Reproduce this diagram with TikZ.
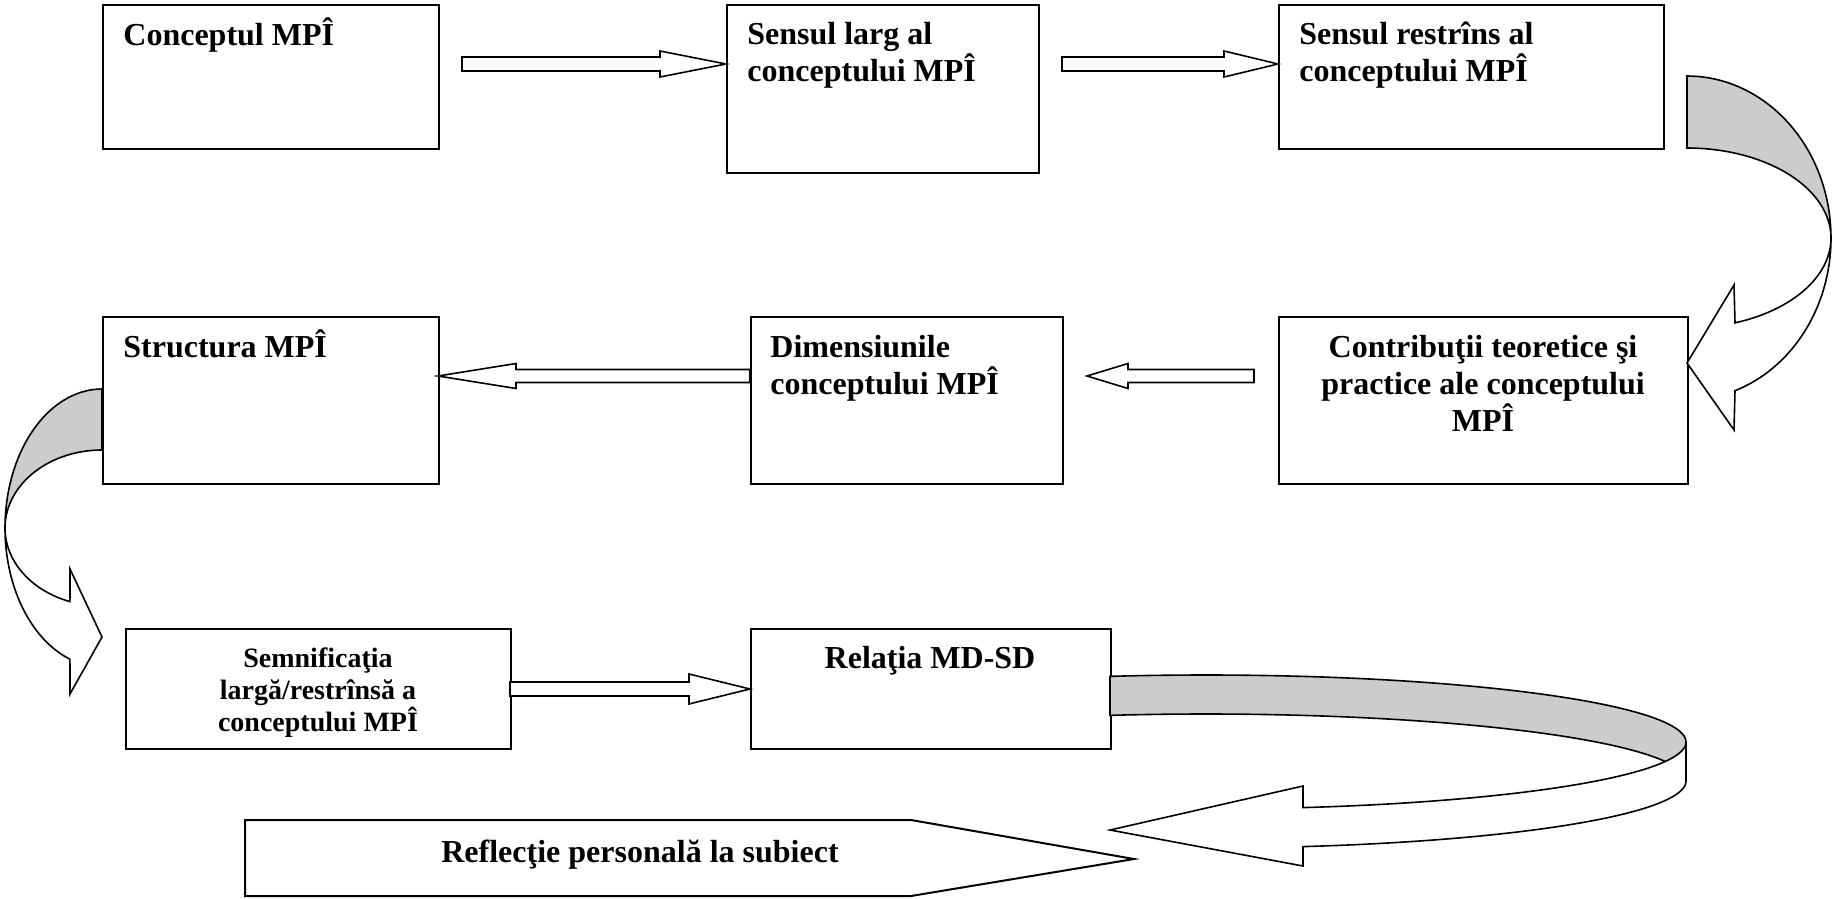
\documentclass[tikz,border=0pt]{standalone}
\usepackage{fontspec}
\setmainfont{Liberation Serif}
% rows stacked on their baselines; the node baseline is the first row
\newcommand\rowsL[1]{\vtop{\halign{##\hfil\cr#1\crcr}}}
\newcommand\rowsC[1]{\vtop{\halign{\hfil##\hfil\cr#1\crcr}}}
% framed box given by its corners (pixel units, y downwards)
\newcommand\boxat[5]{%
  \node[boxframe, anchor=north west,
        minimum width={(#4-#2)*0.5pt}, minimum height={(#5-#3)*0.5pt}]
        (#1) at (#2,#3) {};}
% straight block arrow: tail x, head base x, tip x, axis y, shaft half, head half
\newcommand\blockarrow[6]{%
  \path[frontface] (#1,#4-#5) -- (#2,#4-#5) -- (#2,#4-#6) -- (#3,#4)
     -- (#2,#4+#6) -- (#2,#4+#5) -- (#1,#4+#5) -- cycle;}
\begin{document}
\begin{tikzpicture}[x=0.5pt,y=-0.5pt,
  boxframe/.style={draw, line width=1pt, inner sep=0pt},
  txt/.style={inner sep=0pt, font=\fontsize{16}{18.5}\selectfont\bfseries},
  frontface/.style={draw, line width=0.8pt, line join=miter, fill=white},
  backface/.style={draw, line width=0.8pt, line join=miter, fill=black!20}]
\useasboundingbox (0,0) rectangle (1832,899);

% ---- boxes
\boxat{b1}{102}{4}{438}{148}
\boxat{b2}{726}{4}{1038}{172}
\boxat{b3}{1278}{4}{1663}{148}
\boxat{b4}{102}{316}{438}{483}
\boxat{b5}{750}{316}{1062}{483}
\boxat{b6}{1278}{316}{1687}{483}
\boxat{b7}{125}{628}{510}{748}
\boxat{b8}{750}{628}{1110}{748}

% ---- box texts
\node[txt, anchor=base west] (t1) at (123,46) {Conceptul MPÎ};
\node[txt, anchor=base west] (t2) at (747,45) {\rowsL{Sensul larg al\cr conceptului MPÎ}};
\node[txt, anchor=base west] (t3) at (1299,45) {\rowsL{Sensul restrîns al\cr conceptului MPÎ}};
\node[txt, anchor=base west] (t4) at (123,357) {Structura MPÎ};
\node[txt, anchor=base west] (t5) at (770,357) {\rowsL{Dimensiunile\cr conceptului MPÎ}};
\node[txt, anchor=base] (t6) at (1483,357)
  {\rowsC{Contribuţii teoretice şi\cr practice ale conceptului\cr MPÎ}};
\node[txt, anchor=base, font=\fontsize{14}{16}\selectfont\bfseries] (t7) at (318,667)
  {\rowsC{Semnificaţia\cr largă/restrînsă a\cr conceptului MPÎ}};
\node[txt, anchor=base] (t8) at (930,668) {Relaţia MD-SD};

% ---- straight block arrows
\blockarrow{462}{660}{726}{64}{7}{13}
\blockarrow{1062}{1224}{1278}{64}{7}{13}
\blockarrow{1254}{1128}{1087}{376}{6.5}{12.5}
\blockarrow{750}{516}{438}{376}{6.5}{12.5}
\blockarrow{510}{689}{750}{689}{7}{15}

% ---- curved arrow on the right (from the first row down to the second)
\path[backface]
  plot[domain=-90:0, samples=40, variable=\t] ({1687+144*cos(\t)},{238+162*sin(\t)})
  -- plot[domain=0:-90, samples=40, variable=\t] ({1687+144*cos(\t)},{238+90*sin(\t)})
  -- cycle;
\path[frontface]
  plot[domain=0:70.53, samples=40, variable=\t] ({1687+144*cos(\t)},{238+162*sin(\t)})
  -- (1734,430) -- (1687,363) -- (1734,285)
  -- plot[domain=70.53:0, samples=40, variable=\t] ({1687+144*cos(\t)},{238+90*sin(\t)})
  -- cycle;

% ---- curved arrow on the left (from the second row down to the third)
\path[backface]
  plot[domain=-90:0, samples=40, variable=\t] ({102-97*cos(\t)},{528+139*sin(\t)})
  -- plot[domain=0:-90, samples=40, variable=\t] ({102-97*cos(\t)},{528+78*sin(\t)})
  -- cycle;
\path[frontface]
  plot[domain=0:70.7, samples=40, variable=\t] ({102-97*cos(\t)},{528+139*sin(\t)})
  -- (70,694) -- (102,637) -- (70,569)
  -- plot[domain=70.7:0, samples=40, variable=\t] ({102-97*cos(\t)},{528+78*sin(\t)})
  -- cycle;

% ---- ribbon arrow from the third row back to the left
\path[backface]
  plot[domain=101.54:0, samples=60, variable=\t] ({1206+480*cos(\t)},{742-67*sin(\t)})
  -- plot[domain=0:101.54, samples=60, variable=\t] ({1206+480*cos(\t)},{781-67*sin(\t)})
  -- cycle;
\path[frontface]
  plot[domain=0:-78.34, samples=60, variable=\t] ({1206+480*cos(\t)},{742-67*sin(\t)})
  -- (1303,786) -- (1110,830) -- (1303,866)
  -- plot[domain=-78.34:0, samples=60, variable=\t] ({1206+480*cos(\t)},{781-67*sin(\t)})
  -- cycle;

% ---- closing pentagon
\path[frontface, line width=1pt] (245,820) -- (911,820) -- (1134,859) -- (911,896) -- (245,896) -- cycle;
\node[txt, anchor=base] (t9) at (640,862) {Reflecţie personală la subiect};
\end{tikzpicture}
\end{document}
